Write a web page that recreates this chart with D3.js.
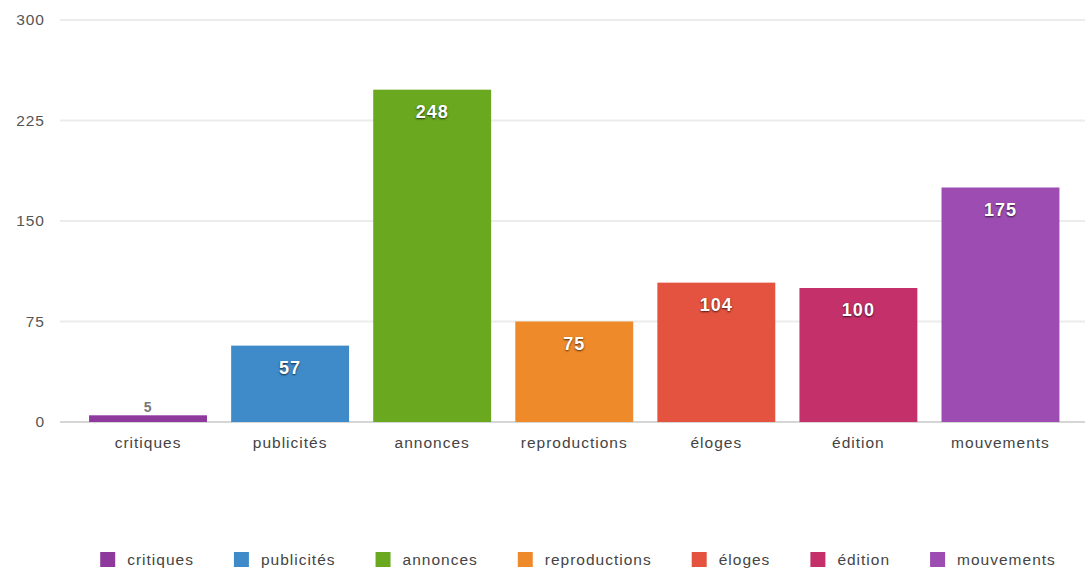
<!DOCTYPE html>
<html><head><meta charset="utf-8">
<script src="https://cdn.jsdelivr.net/npm/d3@7"></script>
<style>
body{margin:0;background:#fff;}
svg{display:block;font-family:"Liberation Sans",Arial,Helvetica,sans-serif;}
</style></head><body>
<svg id="c" width="1085" height="572"></svg>
<script>
const categories = ["critiques","publicités","annonces","reproductions","éloges","édition","mouvements"];
const values = [5,57,248,75,104,100,175];
const colors = ["#8e3a9c","#3f8bc9","#69a81f","#ef8a2b","#e35340","#c4306a","#9d4db2"];
const yTicks = [0,75,150,225,300];

const svg = d3.select("#c");
const x = d3.scaleBand().domain(categories).range([77,1071.5]).paddingInner(0.17).paddingOuter(0.085);
const y = d3.scaleLinear().domain([0,300]).range([422,20]);

// grid
svg.append("g").selectAll("line").data(yTicks).join("line")
  .attr("x1",60).attr("x2",1085)
  .attr("y1",d=>y(d)).attr("y2",d=>y(d))
  .attr("stroke",d=>d===0?"#d6d6d6":"#ececec").attr("stroke-width",2);

// y tick labels
svg.append("g").selectAll("text").data(yTicks).join("text")
  .attr("x",45).attr("y",d=>y(d)).attr("dy","0.35em")
  .attr("text-anchor","end").attr("font-size",15.5).attr("letter-spacing","1px").attr("fill","#555")
  .text(d=>d);

// bars
svg.append("g").selectAll("rect").data(categories).join("rect")
  .attr("x",d=>x(d)).attr("width",x.bandwidth())
  .attr("y",(d,i)=>y(values[i])).attr("height",(d,i)=>y(0)-y(values[i]))
  .attr("fill",(d,i)=>colors[i]);

// value labels
svg.append("g").selectAll("text").data(categories).join("text")
  .attr("x",d=>x(d)+x.bandwidth()/2)
  .attr("y",(d,i)=> values[i] < 20 ? y(values[i])-3 : y(values[i])+28)
  .attr("text-anchor","middle").attr("font-size",(d,i)=>values[i]<20?14:18).attr("font-weight","bold")
  .attr("letter-spacing","1px")
  .attr("fill",(d,i)=>values[i]<20?"#777":"#fff")
  .style("text-shadow",(d,i)=>values[i]<20?"0 0 2px #fff":"0 1px 2px rgba(0,0,0,0.7)")
  .text((d,i)=>values[i]);

// x axis labels
svg.append("g").selectAll("text").data(categories).join("text")
  .attr("x",d=>x(d)+x.bandwidth()/2).attr("y",448)
  .attr("text-anchor","middle").attr("font-size",15.5).attr("letter-spacing","1px").attr("fill","#444")
  .text(d=>d);

// legend
const lg = svg.append("g");
const items = lg.selectAll("g").data(categories).join("g");
items.append("rect").attr("width",15).attr("height",15).attr("y",552).attr("fill",(d,i)=>colors[i]);
items.append("text").attr("x",27).attr("y",560).attr("dy","0.35em").attr("font-size",15.5).attr("letter-spacing","1px").attr("fill","#444").text(d=>d);
let xs = 0; const pos=[];
items.each(function(d){ pos.push(xs); const w=d3.select(this).select("text").node().getComputedTextLength(); xs += 27 + w + 40; });
const total = xs - 40;
const start = 578 - total/2;
items.attr("transform",(d,i)=>`translate(${start+pos[i]},0)`);
</script>
</body></html>
